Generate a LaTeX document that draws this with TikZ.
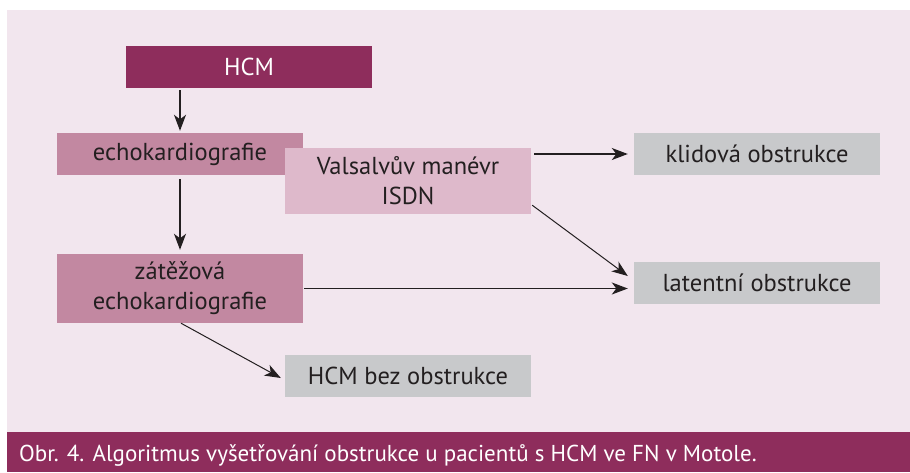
\documentclass[tikz,border=0pt]{standalone}
\usepackage{fontspec}
\setmainfont{PT Sans}
\usetikzlibrary{arrows.meta,calc}
\definecolor{panel}{HTML}{F2E6EE}
\definecolor{plum}{HTML}{8E2D5C}
\definecolor{mauve}{HTML}{C288A1}
\definecolor{lightmauve}{HTML}{DEB9CB}
\definecolor{greybox}{HTML}{C8C9CB}
\definecolor{ink}{HTML}{231F20}
\tikzset{
  box/.style={rectangle, inner sep=0pt, minimum width=246pt, minimum height=42pt,
    align=center, text=ink, font=\fontsize{24.5}{30}\selectfont},
  topbox/.style={box, fill=plum, text=white},
  midbox/.style={box, fill=mauve},
  lightbox/.style={box, fill=lightmauve},
  resultbox/.style={box, fill=greybox},
  arr/.style={draw=ink, line width=1.6pt, -{Stealth[length=16pt,width=12pt,inset=4.5pt]}},
  thinarr/.style={draw=ink, line width=1pt, -{Stealth[length=16pt,width=12pt,inset=4.5pt]}},
}
\begin{document}
\begin{tikzpicture}[x=1pt,y=-1pt]
\useasboundingbox (0,0) rectangle (910,472);
\fill[white] (0,0) rectangle (910,472);
\fill[panel] (7,10) rectangle (910,432);
\fill[plum] (7,432) rectangle (910,472);
\node[anchor=west, text=white, font=\fontsize{23}{28}\selectfont, inner sep=0pt] (cap) at (19,455) {Obr. 4. Algoritmus vyšetřování obstrukce u pacientů s HCM ve FN v Motole.};

\node[topbox] (hcm) at (249,67) {HCM};
\node[midbox] (echo) at (180,154) {echokardiografie};
\node[lightbox, minimum height=66pt] (vals) at (408,181) {Valsalvův manévr\\ISDN};
\node[midbox, minimum height=69pt] (zat) at (180,288.5) {zátěžová\\echokardiografie};
\node[resultbox] (klid) at (757,154) {klidová obstrukce};
\node[resultbox] (lat) at (757,283) {latentní obstrukce};
\node[resultbox] (bez) at (408,376) {HCM bez obstrukce};

\draw[arr, shorten <=2pt, shorten >=2pt] (echo.north |- hcm.south) -- (echo.north);
\draw[arr, shorten <=4pt, shorten >=4pt] (echo.south) -- (zat.north);
\draw[arr, shorten <=3pt, shorten >=6pt] (vals.east |- klid.west) -- (klid.west);
\draw[thinarr] ($(vals.south east)+(1,-9)$) -- ($(lat.west)+(-6,-7)$);
\draw[arr, shorten <=1pt, shorten >=6pt] (zat.east) -- (zat.east -| lat.west);
\draw[thinarr] ($(zat.south)+(1,0)$) -- ($(bez.west)+(-4,2)$);
\end{tikzpicture}
\end{document}
